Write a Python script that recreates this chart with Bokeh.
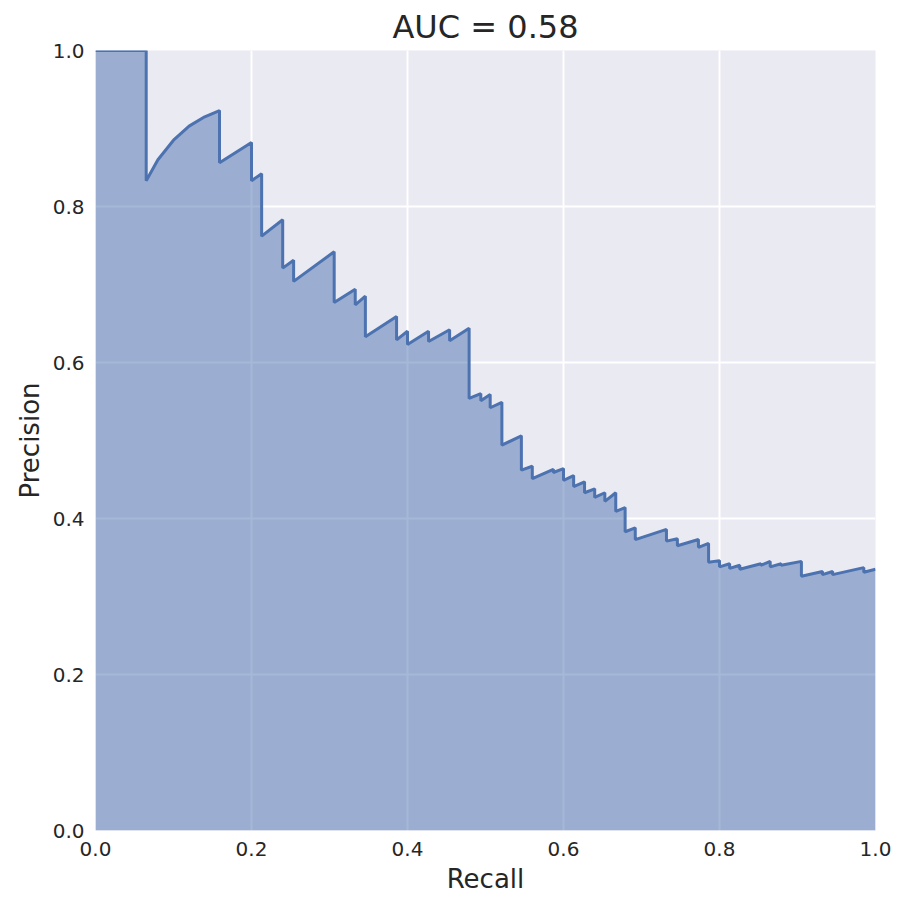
from bokeh.plotting import figure
from bokeh.models import SingleIntervalTicker, NumeralTickFormatter
from bokeh.embed import file_html
from bokeh.resources import INLINE

# precision-recall curve vertices
recall = [0.0, 0.065, 0.065, 0.08, 0.10, 0.12, 0.14, 0.159, 0.159, 0.2, 0.2, 0.213, 0.213,
          0.240, 0.240, 0.254, 0.254, 0.306, 0.306, 0.333, 0.333, 0.346, 0.346, 0.386, 0.386,
          0.4, 0.4, 0.427, 0.427, 0.454, 0.454, 0.479, 0.479, 0.494, 0.494, 0.506, 0.506,
          0.521, 0.521, 0.546, 0.546, 0.560, 0.560, 0.587, 0.587, 0.6, 0.6, 0.613, 0.613,
          0.627, 0.627, 0.640, 0.640, 0.653, 0.653, 0.667, 0.667, 0.679, 0.679, 0.692, 0.692,
          0.732, 0.732, 0.746, 0.746, 0.773, 0.773, 0.786, 0.786, 0.8, 0.8, 0.813, 0.813,
          0.826, 0.826, 0.853, 0.853, 0.865, 0.865, 0.879, 0.879, 0.905, 0.905, 0.932, 0.932,
          0.945, 0.945, 0.985, 0.985, 1.0]
precision = [1.0, 1.0, 0.833, 0.860, 0.885, 0.903, 0.915, 0.923, 0.856, 0.882, 0.833, 0.842, 0.762,
             0.783, 0.721, 0.731, 0.704, 0.742, 0.677, 0.694, 0.674, 0.685, 0.633, 0.659, 0.629,
             0.640, 0.623, 0.640, 0.627, 0.642, 0.628, 0.644, 0.554, 0.560, 0.551, 0.559, 0.542,
             0.549, 0.494, 0.506, 0.462, 0.467, 0.451, 0.463, 0.459, 0.464, 0.449, 0.455, 0.441,
             0.447, 0.433, 0.438, 0.427, 0.433, 0.422, 0.433, 0.409, 0.414, 0.383, 0.388, 0.373,
             0.386, 0.371, 0.374, 0.365, 0.373, 0.363, 0.368, 0.344, 0.346, 0.338, 0.342, 0.336,
             0.340, 0.335, 0.342, 0.340, 0.345, 0.338, 0.342, 0.340, 0.345, 0.326, 0.332, 0.328,
             0.332, 0.328, 0.337, 0.331, 0.335]
auc = 0.58

p = figure(frame_width=780, frame_height=780, x_range=(0, 1), y_range=(0, 1),
           output_backend="svg", toolbar_location=None, title="AUC = %.2f" % auc,
           min_border_left=95, min_border_right=20, min_border_top=20, min_border_bottom=20)
p.background_fill_color = "#EAEAF2"
p.border_fill_color = "white"
p.outline_line_color = None
p.title.align = "center"
p.title.text_font = "DejaVu Sans"
p.title.text_font_size = "24pt" if False else "32px"
p.title.text_font_style = "normal"
p.title.text_color = "#262626"

p.xgrid.grid_line_color = "white"
p.ygrid.grid_line_color = "white"
p.xgrid.grid_line_width = 2
p.ygrid.grid_line_width = 2

for ax in (p.xaxis, p.yaxis):
    ax.ticker = SingleIntervalTicker(interval=0.2)
    ax.formatter = NumeralTickFormatter(format="0.0")
    ax.axis_line_color = None
    ax.major_tick_line_color = None
    ax.minor_tick_line_color = None
    ax.major_label_text_font = "DejaVu Sans"
    ax.major_label_text_font_size = "20px"
    ax.major_label_text_color = "#262626"
    ax.axis_label_text_font = "DejaVu Sans"
    ax.axis_label_text_font_size = "26px"
    ax.axis_label_text_font_style = "normal"
    ax.axis_label_text_color = "#262626"
p.xaxis.axis_label = "Recall"
p.yaxis.axis_label = "Precision"

p.varea(x=recall, y1=[0] * len(recall), y2=precision, fill_color="#4C72B0", fill_alpha=0.5)
p.line(recall, precision, line_color="#4C72B0", line_width=3)

open("out.html", "w").write(file_html(p, INLINE))
